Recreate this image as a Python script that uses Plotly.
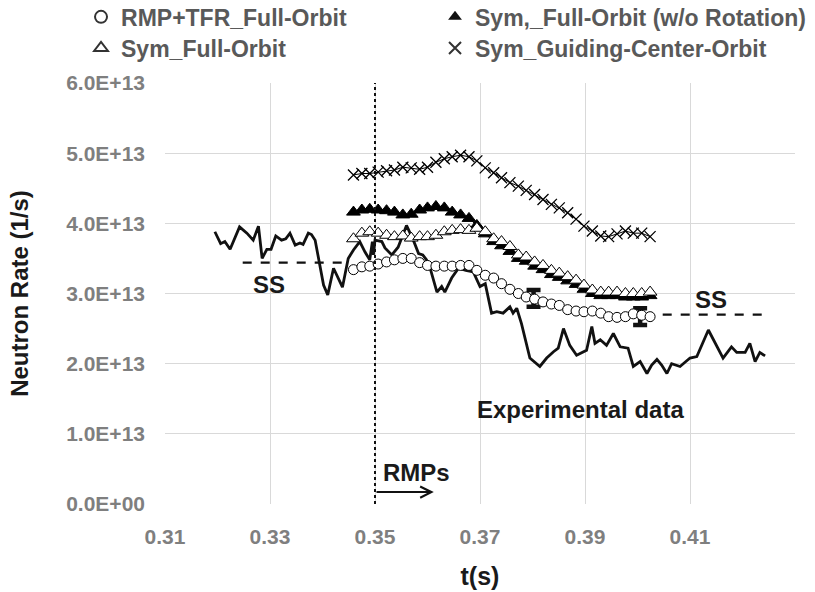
import plotly.graph_objects as go

# ---------------- data (neutron rate in units of 1e13 1/s) ----------------
exp_data = [
    (0.3195, 3.88), (0.3206, 3.71), (0.3214, 3.74), (0.3224, 3.63), (0.3242, 3.95),
    (0.3256, 3.86), (0.3268, 3.76), (0.3278, 3.96), (0.3285, 3.50), (0.3294, 3.63),
    (0.3302, 3.63), (0.3311, 3.82), (0.3322, 3.76), (0.3330, 3.78), (0.3338, 3.86),
    (0.3348, 3.69), (0.3357, 3.72), (0.3363, 3.70), (0.3373, 3.86), (0.3379, 3.84),
    (0.3386, 3.76), (0.3392, 3.50), (0.3402, 3.12), (0.3410, 2.98), (0.3421, 3.36),
    (0.3438, 3.09), (0.3449, 3.50), (0.3459, 3.62), (0.3471, 3.74), (0.3481, 3.59),
    (0.3490, 3.48), (0.3495, 3.74), (0.3497, 3.55), (0.3500, 3.76), (0.3513, 3.74),
    (0.3519, 3.65), (0.3532, 3.55), (0.3544, 3.66), (0.3560, 3.97), (0.3573, 3.76),
    (0.3583, 3.57), (0.3591, 3.55), (0.3598, 3.48), (0.3605, 3.36), (0.3618, 3.02),
    (0.3627, 3.10), (0.3633, 3.02), (0.3646, 3.22), (0.3659, 3.36), (0.3673, 3.33),
    (0.3687, 3.31), (0.3700, 3.10), (0.3710, 3.14), (0.3722, 2.72), (0.3732, 2.74),
    (0.3744, 2.72), (0.3757, 2.81), (0.3763, 2.72), (0.3770, 2.79), (0.3779, 2.57),
    (0.3795, 2.08), (0.3814, 1.96), (0.3827, 2.08), (0.3840, 2.17), (0.3849, 2.22),
    (0.3859, 2.50), (0.3871, 2.26), (0.3884, 2.12), (0.3903, 2.19), (0.3913, 2.53),
    (0.3919, 2.29), (0.3929, 2.34), (0.3941, 2.26), (0.3954, 2.43), (0.3967, 2.24),
    (0.3982, 2.22), (0.3992, 1.96), (0.4005, 2.03), (0.4018, 1.86), (0.4027, 1.98),
    (0.4037, 2.06), (0.4046, 1.98), (0.4056, 1.86), (0.4065, 2.00), (0.4081, 1.96),
    (0.4100, 2.08), (0.4113, 2.10), (0.4135, 2.48), (0.4151, 2.24), (0.4163, 2.08),
    (0.4179, 2.24), (0.4189, 2.16), (0.4205, 2.16), (0.4214, 2.29), (0.4224, 2.03),
    (0.4233, 2.16), (0.4243, 2.11),
]
exp_t = [p[0] for p in exp_data]
exp_v = [p[1] for p in exp_data]

sim_t = [0.3459, 0.3475, 0.3490, 0.3506, 0.3522, 0.3537, 0.3553, 0.3569, 0.3585, 0.3600,
         0.3616, 0.3632, 0.3647, 0.3663, 0.3679, 0.3694, 0.3710, 0.3726, 0.3741, 0.3757,
         0.3773, 0.3788, 0.3804, 0.3820, 0.3836, 0.3851, 0.3867, 0.3883, 0.3898, 0.3914,
         0.3930, 0.3945, 0.3961, 0.3977, 0.3992, 0.4008, 0.4024]

rmp_tfr_fo = [3.34, 3.38, 3.39, 3.42, 3.45, 3.48, 3.50, 3.50, 3.44, 3.40,
              3.39, 3.39, 3.39, 3.40, 3.40, 3.33, 3.26, 3.22, 3.14, 3.06,
              3.00, 2.95, 2.92, 2.88, 2.85, 2.83, 2.77, 2.75, 2.74, 2.75,
              2.72, 2.67, 2.66, 2.67, 2.71, 2.69, 2.67]

sym_fo_norot = [4.16, 4.19, 4.20, 4.19, 4.18, 4.16, 4.12, 4.13, 4.19, 4.22,
                4.24, 4.22, 4.16, 4.12, 4.07, 3.97, 3.85, 3.74, 3.68, 3.60,
                3.50, 3.46, 3.39, 3.34, 3.27, 3.23, 3.18, 3.13, 3.06, 3.00,
                2.97, 2.97, 2.97, 2.95, 2.95, 2.95, 2.97]

sym_fo = [3.78, 3.86, 3.88, 3.86, 3.83, 3.81, 3.82, 3.79, 3.81, 3.81,
          3.83, 3.88, 3.90, 3.91, 3.90, 3.93, 3.88, 3.78, 3.74, 3.67,
          3.55, 3.52, 3.45, 3.40, 3.33, 3.29, 3.24, 3.19, 3.12, 3.05,
          3.02, 3.02, 3.02, 3.00, 3.00, 3.00, 3.02]

sym_gc = [4.69, 4.71, 4.71, 4.73, 4.75, 4.76, 4.80, 4.79, 4.77, 4.80,
          4.87, 4.92, 4.95, 4.97, 4.95, 4.89, 4.79, 4.72, 4.65, 4.58,
          4.53, 4.47, 4.41, 4.34, 4.27, 4.22, 4.15, 4.06, 3.96, 3.89,
          3.82, 3.81, 3.85, 3.89, 3.86, 3.86, 3.81]

err_t = [0.3802, 0.4005]
err_v = [2.93, 2.67]
err_half = [0.12, 0.12]

ss_left_t = [0.3248, 0.3446]
ss_left_v = [3.44, 3.44]
ss_right_t = [0.4048, 0.4246]
ss_right_v = [2.70, 2.70]

rmp_on_t = 0.35
y_ticks = [0, 1, 2, 3, 4, 5, 6]
x_ticks = [0.31, 0.33, 0.35, 0.37, 0.39, 0.41, 0.43]

SCALE = 1e13
def sc(vals):
    return [v * SCALE for v in vals]

FONT = "Liberation Sans, Arial, sans-serif"
BLACK = "#000000"

fig = go.Figure()

# experimental data
fig.add_trace(go.Scatter(x=exp_t, y=sc(exp_v), mode="lines",
                         line=dict(color="#111111", width=2.8), showlegend=False))

# steady-state dashed lines
fig.add_trace(go.Scatter(x=ss_left_t, y=sc(ss_left_v), mode="lines",
                         line=dict(color="#111111", width=2.2, dash="dash"), showlegend=False))
fig.add_trace(go.Scatter(x=ss_right_t, y=sc(ss_right_v), mode="lines",
                         line=dict(color="#111111", width=2.2, dash="dash"), showlegend=False))

# guiding centre
fig.add_trace(go.Scatter(x=sim_t, y=sc(sym_gc), mode="lines+markers",
                         line=dict(color=BLACK, width=1),
                         marker=dict(symbol="x-thin", size=11,
                                     line=dict(color=BLACK, width=1.3)),
                         showlegend=False))
# full orbit w/o rotation
fig.add_trace(go.Scatter(x=sim_t, y=sc(sym_fo_norot), mode="lines+markers",
                         line=dict(color=BLACK, width=1),
                         marker=dict(symbol="triangle-up", size=12, color=BLACK,
                                     line=dict(color=BLACK, width=1)),
                         showlegend=False))
# full orbit symmetric
fig.add_trace(go.Scatter(x=sim_t, y=sc(sym_fo), mode="lines+markers",
                         line=dict(color=BLACK, width=1),
                         marker=dict(symbol="triangle-up", size=12, color="white",
                                     line=dict(color=BLACK, width=1)),
                         showlegend=False))
# error bars
fig.add_trace(go.Scatter(x=err_t, y=sc(err_v), mode="markers",
                         marker=dict(size=2, color="rgba(0,0,0,0)"),
                         error_y=dict(type="data", array=sc(err_half), visible=True,
                                      color="#111111", thickness=4.5, width=7),
                         showlegend=False))
# RMP + TFR
fig.add_trace(go.Scatter(x=sim_t, y=sc(rmp_tfr_fo), mode="lines+markers",
                         line=dict(color=BLACK, width=1),
                         marker=dict(symbol="circle", size=10, color="white",
                                     line=dict(color=BLACK, width=1)),
                         showlegend=False))

# legend-only entries (marker glyph only, as in the reference)
legend_items = [
    ("RMP+TFR_Full-Orbit", dict(symbol="circle-open", size=10, color="#333333",
                                line=dict(width=1.2)), "legend"),
    ("Sym,_Full-Orbit (w/o Rotation)", dict(symbol="triangle-up", size=10, color="#111111"), "legend2"),
    ("Sym_Full-Orbit", dict(symbol="triangle-up-open", size=10, color="#333333",
                            line=dict(width=1.2)), "legend3"),
    ("Sym_Guiding-Center-Orbit", dict(symbol="x-thin", size=10,
                                      line=dict(color="#333333", width=1.3)), "legend4"),
]
for name, mk, lg in legend_items:
    fig.add_trace(go.Scatter(x=[None], y=[None], mode="markers", name=name,
                             marker=mk, legend=lg, showlegend=True))

leg_font = dict(family=FONT, size=23, color="#595959", weight="bold")
def leg(x, y):
    return dict(x=x, y=y, xanchor="left", yanchor="middle", font=leg_font,
                bgcolor="rgba(0,0,0,0)", borderwidth=0, itemsizing="constant",
                orientation="v")

fig.update_layout(
    width=815, height=592,
    margin=dict(l=165, r=20, t=83, b=88, autoexpand=False),
    paper_bgcolor="white", plot_bgcolor="white",
    font=dict(family=FONT),
    legend=leg(-0.1333, 1.157),
    legend2=leg(0.4286, 1.157),
    legend3=leg(-0.1333, 1.083),
    legend4=leg(0.4286, 1.083),
)

fig.update_xaxes(
    range=[0.31, 0.43], tickvals=x_ticks, ticktext=[f"{v:.2f}" for v in x_ticks],
    showgrid=True, gridcolor="#d9d9d9", gridwidth=1, zeroline=False, showline=False,
    ticks="", ticklabelstandoff=18,
    tickfont=dict(family=FONT, size=21, color="#7f7f7f", weight="bold"),
    title=dict(text="t(s)", standoff=20,
               font=dict(family=FONT, size=25, color="#1a1a1a", weight="bold")),
)
fig.update_yaxes(
    range=[0, 6 * SCALE], tickvals=sc(y_ticks),
    ticktext=[("0.0E+00" if v == 0 else f"{v:.1f}E+13") for v in y_ticks],
    showgrid=True, gridcolor="#d9d9d9", gridwidth=1, zeroline=False, showline=False,
    ticks="", ticklabelstandoff=19,
    tickfont=dict(family=FONT, size=21, color="#7f7f7f", weight="bold"),
    title=dict(text="Neutron Rate (1/s)", standoff=30,
               font=dict(family=FONT, size=24, color="#1a1a1a", weight="bold")),
)

# RMP switch-on time
fig.add_vline(x=rmp_on_t, line=dict(color="#111111", width=2, dash="dot"))

ann_font = dict(family=FONT, size=24, color="#1a1a1a", weight="bold")
fig.add_annotation(x=0.3298, y=3.13 * SCALE, text="SS", showarrow=False, font=ann_font)
fig.add_annotation(x=0.4140, y=2.92 * SCALE, text="SS", showarrow=False, font=ann_font)
fig.add_annotation(x=0.3690, y=1.34 * SCALE, text="Experimental data", showarrow=False,
                   xanchor="left", font=ann_font)
fig.add_annotation(x=0.3511, y=0.45 * SCALE, text="RMPs", showarrow=False,
                   xanchor="left", font=ann_font)
fig.add_annotation(x=0.3612, y=0.17 * SCALE, ax=rmp_on_t, ay=0.17 * SCALE,
                   xref="x", yref="y", axref="x", ayref="y", text="",
                   showarrow=True, arrowhead=5, arrowsize=1.1, arrowwidth=2,
                   arrowcolor="#111111")

fig.write_html("out.html")
